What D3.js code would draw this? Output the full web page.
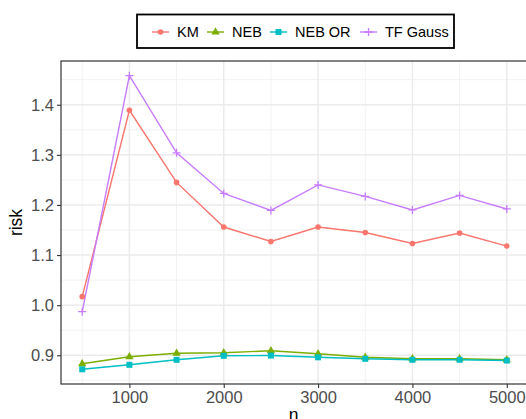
<!DOCTYPE html>
<html>
<head>
<meta charset="utf-8">
<script src="https://cdn.jsdelivr.net/npm/d3@7"></script>
<style>
  body { margin: 0; background: #fff; }
  text { font-family: "Liberation Sans", Arial, sans-serif; }
</style>
</head>
<body>
<div id="chart_div"></div>
<script>
// data
var nValues = [500, 1000, 1500, 2000, 2500, 3000, 3500, 4000, 4500, 5000];
var kmRisk = [1.017, 1.389, 1.245, 1.156, 1.127, 1.156, 1.145, 1.123, 1.144, 1.118];
var nebRisk = [0.883, 0.897, 0.904, 0.905, 0.909, 0.903, 0.896, 0.893, 0.893, 0.891];
var nebOrRisk = [0.872, 0.881, 0.891, 0.899, 0.8995, 0.896, 0.893, 0.891, 0.891, 0.8895];
var tfGaussRisk = [0.987, 1.458, 1.304, 1.223, 1.189, 1.240, 1.217, 1.190, 1.219, 1.192];
var seriesNames = ["KM", "NEB", "NEB OR", "TF Gauss"];
var xTicks = [1000, 2000, 3000, 4000, 5000];
var yTicks = [0.9, 1.0, 1.1, 1.2, 1.3, 1.4];

var W = 526, H = 419;
var panel = { left: 61, right: 528, top: 61, bottom: 384 };

var colors = ["#F8766D", "#7CAE00", "#00BFC4", "#C77CFF"];
var shapes = ["circle", "triangle", "square", "plus"];

var series = [kmRisk, nebRisk, nebOrRisk, tfGaussRisk].map(function(vals, i) {
  return {
    name: seriesNames[i],
    color: colors[i],
    shape: shapes[i],
    values: vals.map(function(v, j) { return { n: nValues[j], risk: v }; })
  };
});

var svg = d3.select("#chart_div")
  .append("svg")
  .attr("width", W)
  .attr("height", H);

// scales with ggplot style 5% expansion
var xExt = d3.extent(nValues);
var xPad = (xExt[1] - xExt[0]) * 0.05;
var x = d3.scaleLinear()
  .domain([xExt[0] - xPad, xExt[1] + xPad])
  .range([panel.left, panel.right]);

var allRisk = kmRisk.concat(nebRisk, nebOrRisk, tfGaussRisk);
var yExt = d3.extent(allRisk);
var yPad = (yExt[1] - yExt[0]) * 0.05;
var y = d3.scaleLinear()
  .domain([yExt[0] - yPad, yExt[1] + yPad])
  .range([panel.bottom, panel.top]);

// grid lines
var xMinor = [500, 1500, 2500, 3500, 4500];
var yMinor = [0.85, 0.95, 1.05, 1.15, 1.25, 1.35, 1.45];
var grid = svg.append("g");
grid.selectAll(".xminor").data(xMinor).enter().append("line")
  .attr("x1", function(d) { return x(d); }).attr("x2", function(d) { return x(d); })
  .attr("y1", panel.top).attr("y2", panel.bottom)
  .attr("stroke", "#F2F2F2").attr("stroke-width", 1);
grid.selectAll(".yminor").data(yMinor).enter().append("line")
  .attr("y1", function(d) { return y(d); }).attr("y2", function(d) { return y(d); })
  .attr("x1", panel.left).attr("x2", panel.right)
  .attr("stroke", "#F2F2F2").attr("stroke-width", 1);
grid.selectAll(".xmajor").data(xTicks).enter().append("line")
  .attr("x1", function(d) { return x(d); }).attr("x2", function(d) { return x(d); })
  .attr("y1", panel.top).attr("y2", panel.bottom)
  .attr("stroke", "#EBEBEB").attr("stroke-width", 1.5);
grid.selectAll(".ymajor").data(yTicks).enter().append("line")
  .attr("y1", function(d) { return y(d); }).attr("y2", function(d) { return y(d); })
  .attr("x1", panel.left).attr("x2", panel.right)
  .attr("stroke", "#EBEBEB").attr("stroke-width", 1.5);

// lines
var line = d3.line()
  .x(function(d) { return x(d.n); })
  .y(function(d) { return y(d.risk); });

svg.selectAll(".series")
  .data(series)
  .enter()
  .append("path")
  .attr("d", function(d) { return line(d.values); })
  .attr("fill", "none")
  .attr("stroke", function(d) { return d.color; })
  .attr("stroke-width", 1.4);

// point markers
function drawMarker(g, shape, color, cx, cy) {
  if (shape === "circle") {
    g.append("circle").attr("cx", cx).attr("cy", cy).attr("r", 2.8).attr("fill", color);
  } else if (shape === "triangle") {
    g.append("path")
      .attr("d", d3.symbol().type(d3.symbolTriangle).size(30)())
      .attr("transform", "translate(" + cx + "," + cy + ")")
      .attr("fill", color);
  } else if (shape === "square") {
    g.append("rect").attr("x", cx - 3).attr("y", cy - 3)
      .attr("width", 6).attr("height", 6).attr("fill", color);
  } else {
    g.append("path")
      .attr("d", "M" + (cx - 4) + "," + cy + "H" + (cx + 4) + "M" + cx + "," + (cy - 4) + "V" + (cy + 4))
      .attr("stroke", color).attr("stroke-width", 1.3);
  }
}

series.forEach(function(s) {
  var g = svg.append("g");
  s.values.forEach(function(d) {
    drawMarker(g, s.shape, s.color, x(d.n), y(d.risk));
  });
});

// panel border
svg.append("rect")
  .attr("x", panel.left).attr("y", panel.top)
  .attr("width", panel.right - panel.left).attr("height", panel.bottom - panel.top)
  .attr("fill", "none").attr("stroke", "#333333").attr("stroke-width", 1.2);

// axes
var xAxis = svg.append("g")
  .attr("transform", "translate(0," + panel.bottom + ")")
  .call(d3.axisBottom(x).tickValues(xTicks).tickSize(4).tickPadding(3).tickFormat(d3.format("d")));
var yAxis = svg.append("g")
  .attr("transform", "translate(" + panel.left + ",0)")
  .call(d3.axisLeft(y).tickValues(yTicks).tickSize(4).tickPadding(3).tickFormat(d3.format(".1f")));

[xAxis, yAxis].forEach(function(a) {
  a.select(".domain").remove();
  a.selectAll(".tick line").attr("stroke", "#333333").attr("stroke-width", 1.1);
  a.selectAll(".tick text")
    .attr("fill", "#4D4D4D")
    .style("font-size", "16.5px")
    .style("font-family", "'Liberation Sans', Arial, sans-serif");
});

// axis titles
svg.append("text")
  .attr("x", (panel.left + panel.right) / 2 - 1)
  .attr("y", 421)
  .attr("text-anchor", "middle")
  .style("font-size", "17.5px")
  .text("n");

svg.append("text")
  .attr("transform", "translate(22," + ((panel.top + panel.bottom) / 2) + ") rotate(-90)")
  .attr("text-anchor", "middle")
  .style("font-size", "17.5px")
  .text("risk");

// legend
var legend = svg.append("g");
legend.append("rect")
  .attr("x", 137).attr("y", 14.5)
  .attr("width", 317).attr("height", 33.5)
  .attr("fill", "#fff").attr("stroke", "#000").attr("stroke-width", 1.8);

var keyX = [152, 207, 270, 360];
var legendY = 32;
series.forEach(function(s, i) {
  var g = legend.append("g");
  g.append("line")
    .attr("x1", keyX[i]).attr("x2", keyX[i] + 17)
    .attr("y1", legendY).attr("y2", legendY)
    .attr("stroke", s.color).attr("stroke-width", 1.4);
  drawMarker(g, s.shape, s.color, keyX[i] + 8.5, legendY);
  g.append("text")
    .attr("x", keyX[i] + 25)
    .attr("y", legendY)
    .attr("dy", "0.35em")
    .style("font-size", "14.5px")
    .text(s.name);
});
</script>
</body>
</html>
